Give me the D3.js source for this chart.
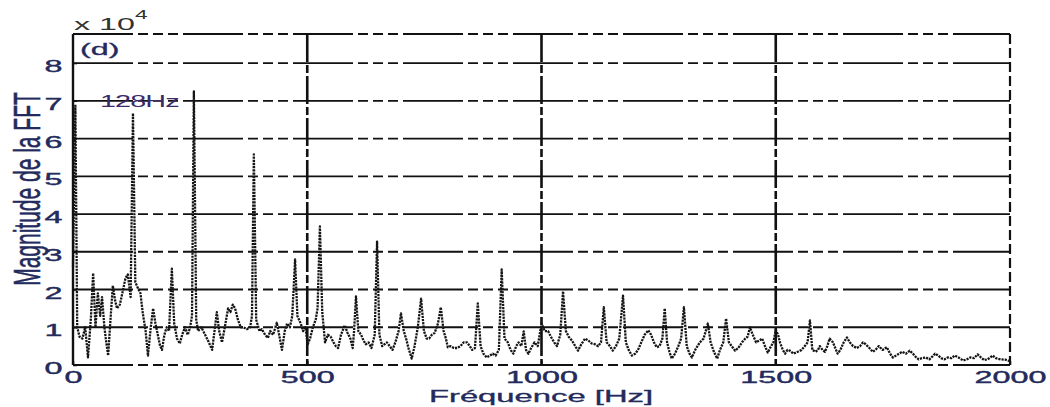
<!DOCTYPE html>
<html>
<head>
<meta charset="utf-8">
<script src="https://cdn.jsdelivr.net/npm/d3@7"></script>
<style>
  body { margin: 0; background: #fff; }
  text { font-family: "Liberation Sans", Arial, sans-serif; }
</style>
</head>
<body>
<script>
// spectrum: frequency [Hz] and magnitude [x 10^4]
const freq = [
	0, 5, 9, 14, 20, 26, 32, 38, 43, 48, 53, 58, 62, 67, 71, 75, 80, 85, 90, 94,
	100, 107, 112, 117, 123, 128, 133, 138, 144, 149, 155, 160, 166, 171, 176, 181, 186, 190, 195,
	200, 205, 211, 216, 222, 228, 233, 239, 245, 250, 254, 258, 263, 267, 274, 282, 290, 297,
	302, 307, 312, 318, 324, 331, 336, 341, 346, 352, 358, 364, 371, 378, 382, 386, 391, 398,
	403, 410, 416, 421, 427, 435, 440, 446, 452, 457, 463, 468, 474, 479, 486, 491, 496,
	501, 506, 512, 518, 522, 527, 532, 538, 544, 550, 556, 561, 566, 572, 580, 586, 592, 597,
	600, 604, 609, 615, 620, 625, 631, 637, 644, 649, 654, 660, 665, 670, 676, 682, 688, 695,
	700, 706, 711, 716, 723, 729, 736, 743, 749, 755, 760, 766, 772, 779, 785, 791, 796,
	800, 806, 813, 820, 827, 834, 841, 847, 852, 858, 864, 870, 876, 883, 890, 896,
	902, 909, 915, 921, 928, 934, 940, 946, 951, 957, 962, 967, 972, 978, 985, 992,
	1000, 1007, 1014, 1020, 1027, 1033, 1040, 1046, 1052, 1058, 1065, 1072, 1078, 1085, 1093,
	1100, 1107, 1114, 1121, 1127, 1133, 1139, 1146, 1152, 1159, 1166, 1174, 1180, 1186, 1193,
	1200, 1206, 1213, 1220, 1228, 1234, 1240, 1246, 1252, 1258, 1263, 1268, 1273, 1278, 1285, 1292, 1298,
	1304, 1310, 1316, 1321, 1328, 1338, 1346, 1355, 1361, 1368, 1375, 1381, 1388, 1394,
	1400, 1406, 1413, 1420, 1428, 1435, 1440, 1445, 1451, 1458, 1465, 1471, 1477, 1483, 1490, 1495,
	1500, 1505, 1509, 1515, 1520, 1525, 1530, 1538, 1547, 1555, 1562, 1568, 1573, 1578, 1585, 1590, 1594,
	1600, 1605, 1610, 1615, 1622, 1627, 1632, 1638, 1645, 1652, 1658, 1665, 1673, 1680, 1686, 1692,
	1700, 1707, 1713, 1720, 1728, 1737, 1744, 1750, 1757, 1763, 1770, 1778, 1786, 1793,
	1800, 1805, 1812, 1820, 1828, 1834, 1840, 1847, 1853, 1860, 1867, 1875, 1882, 1890,
	1900, 1908, 1915, 1923, 1931, 1938, 1945, 1952, 1958, 1963, 1970, 1980, 1990, 2000
];
const magnitude = [
	2.6, 6.9, 1.0, 0.75, 0.7, 1.0, 0.2, 1.2, 2.43, 1.0, 1.9, 1.3, 1.8, 1.0, 0.6, 0.25, 1.2, 2.1, 1.7, 1.5,
	1.6, 2.0, 2.3, 2.4, 1.8, 6.67, 2.2, 2.05, 1.9, 1.37, 0.9, 0.25, 1.0, 1.5, 1.1, 0.8, 0.5, 0.4, 0.8,
	1.0, 0.9, 2.55, 1.1, 0.7, 0.57, 0.8, 1.0, 0.8, 1.0, 1.3, 7.25, 1.2, 0.9, 1.0, 0.8, 0.6, 0.4,
	0.9, 1.4, 0.9, 0.6, 1.0, 1.5, 1.4, 1.6, 1.5, 1.2, 1.0, 1.0, 0.95, 1.0, 1.3, 5.58, 1.2, 0.9,
	0.95, 0.8, 0.72, 0.9, 0.8, 1.12, 0.8, 0.4, 0.9, 1.1, 1.0, 1.3, 2.8, 1.3, 1.1, 0.9, 1.0,
	0.55, 0.7, 1.0, 1.2, 1.5, 3.67, 1.4, 0.6, 0.8, 0.75, 0.6, 0.5, 0.45, 0.8, 1.05, 0.85, 0.7, 0.45,
	0.9, 1.82, 0.9, 0.8, 0.65, 0.55, 0.6, 0.45, 0.8, 3.27, 0.8, 0.5, 0.55, 0.6, 0.5, 0.4, 0.6, 0.9,
	1.37, 0.9, 0.7, 0.45, 0.17, 0.5, 1.0, 1.76, 0.9, 0.7, 0.7, 0.8, 0.85, 1.1, 1.53, 0.9, 0.7,
	0.47, 0.5, 0.45, 0.45, 0.5, 0.6, 0.6, 0.5, 0.4, 0.45, 1.63, 0.5, 0.3, 0.2, 0.25, 0.3,
	0.25, 0.4, 2.53, 0.7, 0.6, 0.4, 0.3, 0.5, 0.6, 0.5, 0.89, 0.4, 0.3, 0.45, 0.6, 0.5,
	1.1, 0.9, 0.9, 0.75, 0.6, 0.5, 0.8, 1.95, 0.9, 0.75, 0.65, 0.5, 0.38, 0.55, 0.7,
	0.65, 0.57, 0.55, 0.5, 0.6, 1.53, 0.6, 0.5, 0.38, 0.5, 0.7, 1.84, 0.6, 0.4, 0.25,
	0.3, 0.4, 0.6, 0.8, 0.92, 0.8, 0.6, 0.47, 0.5, 0.7, 1.5, 0.6, 0.35, 0.17, 0.3, 0.5, 0.7,
	1.53, 0.5, 0.3, 0.2, 0.4, 0.6, 0.7, 1.1, 0.6, 0.35, 0.17, 0.4, 0.6, 1.23,
	0.6, 0.5, 0.38, 0.45, 0.6, 0.7, 0.75, 1.0, 0.8, 0.6, 0.65, 0.7, 0.5, 0.33, 0.5, 0.6,
	0.93, 0.8, 0.6, 0.4, 0.3, 0.4, 0.38, 0.3, 0.35, 0.4, 0.5, 0.6, 1.18, 0.4, 0.35, 0.4, 0.5,
	0.4, 0.35, 0.5, 0.7, 0.6, 0.45, 0.3, 0.4, 0.6, 0.73, 0.6, 0.5, 0.45, 0.5, 0.6, 0.55,
	0.45, 0.35, 0.4, 0.5, 0.4, 0.47, 0.3, 0.2, 0.25, 0.3, 0.35, 0.3, 0.38, 0.3,
	0.2, 0.15, 0.18, 0.2, 0.15, 0.22, 0.3, 0.25, 0.18, 0.15, 0.2, 0.18, 0.25, 0.2,
	0.12, 0.15, 0.2, 0.18, 0.28, 0.2, 0.13, 0.15, 0.2, 0.25, 0.18, 0.15, 0.14, 0.1
];
const xTicks = [0, 500, 1000, 1500, 2000];
const yTicks = [0, 1, 2, 3, 4, 5, 6, 7, 8];

const spectrum = freq.map((f, i) => ({f: f, m: magnitude[i]}));

const svgSize = {'width': 1050, 'height': 407};
const plot = {left: 73, right: 1010, top: 34, bottom: 365};
const ink = '#232a5c';

var svg = d3.select('body').append('svg')
	.attr('width', svgSize.width)
	.attr('height', svgSize.height);

var x = d3.scaleLinear().domain([0, 2000]).range([plot.left, plot.right]);
var y = d3.scaleLinear().domain([0, 8.77]).range([plot.bottom, plot.top]);

// horizontal grid, top and bottom edges share the same broken pattern
svg.append('g')
	.selectAll('line')
	.data(yTicks.concat([8.77]))
	.enter()
	.append('line')
	.attr('x1', plot.left).attr('x2', plot.right)
	.attr('y1', (d) => y(d)).attr('y2', (d) => y(d))
	.attr('stroke', '#111')
	.attr('stroke-width', 1.8)
	.attr('stroke-dasharray', '60,5,10,5,10,5,10,5');

// vertical grid
svg.append('g')
	.selectAll('line')
	.data([500, 1000, 1500])
	.enter()
	.append('line')
	.attr('x1', (d) => x(d)).attr('x2', (d) => x(d))
	.attr('y1', plot.top).attr('y2', plot.bottom)
	.attr('stroke', '#111')
	.attr('stroke-width', 2.6)
	.attr('stroke-dasharray', '28,3,8,3');

// right edge
svg.append('line')
	.attr('x1', x(2000)).attr('x2', x(2000))
	.attr('y1', plot.top).attr('y2', plot.bottom)
	.attr('stroke', '#111')
	.attr('stroke-width', 2.2)
	.attr('stroke-dasharray', '10,4');

// spectrum
var line = d3.line().x((d) => x(d.f)).y((d) => y(d.m));
svg.append('path')
	.datum(spectrum)
	.attr('d', line)
	.attr('fill', 'none')
	.attr('stroke', '#151515')
	.attr('stroke-width', 2.3)
	.attr('stroke-linejoin', 'round')
	.attr('stroke-dasharray', '2.2,1');

// left edge
svg.append('line')
	.attr('x1', plot.left).attr('x2', plot.left)
	.attr('y1', plot.top).attr('y2', plot.bottom)
	.attr('stroke', '#111')
	.attr('stroke-width', 2.4);

// axes
var yAxis = svg.append('g')
	.attr('transform', `translate(${plot.left}, 0)`)
	.call(d3.axisLeft(y).tickValues(yTicks).tickSize(-4).tickFormat(d3.format('d')));
yAxis.select('.domain').remove();
yAxis.selectAll('line').attr('stroke', '#111').attr('stroke-width', 1.5);
yAxis.selectAll('text')
	.attr('x', -5.5)
	.attr('dy', '0.5em')
	.attr('transform', 'scale(1.9,1)')
	.attr('fill', ink)
	.attr('stroke', ink)
	.attr('stroke-width', 0.4)
	.style('font-size', '17px')
	.style('font-family', '"Liberation Sans", Arial, sans-serif');

var xAxis = svg.append('g')
	.attr('transform', `translate(0, ${plot.bottom})`)
	.call(d3.axisBottom(x).tickValues(xTicks).tickSize(-4).tickFormat(d3.format('d')));
xAxis.select('.domain').remove();
xAxis.selectAll('line').attr('stroke', '#111').attr('stroke-width', 1.5);
xAxis.selectAll('text')
	.attr('y', 6)
	.attr('transform', 'scale(1.9,1)')
	.attr('fill', ink)
	.attr('stroke', ink)
	.attr('stroke-width', 0.4)
	.style('font-size', '17px')
	.style('font-family', '"Liberation Sans", Arial, sans-serif');

// labels, stretched sideways like the picture
svg.append('text')
	.attr('transform', 'translate(541, 402) scale(2.05,1)')
	.attr('text-anchor', 'middle')
	.attr('fill', ink)
	.attr('stroke', ink)
	.attr('stroke-width', 0.3)
	.style('font-size', '16px')
	.text('Fréquence [Hz]');

svg.append('text')
	.attr('transform', 'translate(40, 189) scale(1.8,1) rotate(-90)')
	.attr('text-anchor', 'middle')
	.attr('fill', ink)
	.attr('stroke', ink)
	.attr('stroke-width', 0.3)
	.style('font-size', '21px')
	.text('Magnitude de la FFT');

var expo = svg.append('text')
	.attr('transform', 'translate(74, 30) scale(1.9,1)')
	.attr('fill', '#333')
	.style('font-size', '17px');
expo.append('tspan').text('x 10');
expo.append('tspan').attr('dy', -11).style('font-size', '12px').text('4');

svg.append('text')
	.attr('transform', 'translate(80, 55) scale(1.9,1)')
	.attr('fill', ink)
	.attr('stroke', ink)
	.attr('stroke-width', 0.3)
	.style('font-size', '17px')
	.text('(d)');

svg.append('text')
	.attr('transform', 'translate(100, 107) scale(1.8,1)')
	.attr('fill', '#3a2a6a')
	.style('font-size', '16px')
	.style('letter-spacing', '-0.5px')
	.text('128Hz');
</script>
</body>
</html>
